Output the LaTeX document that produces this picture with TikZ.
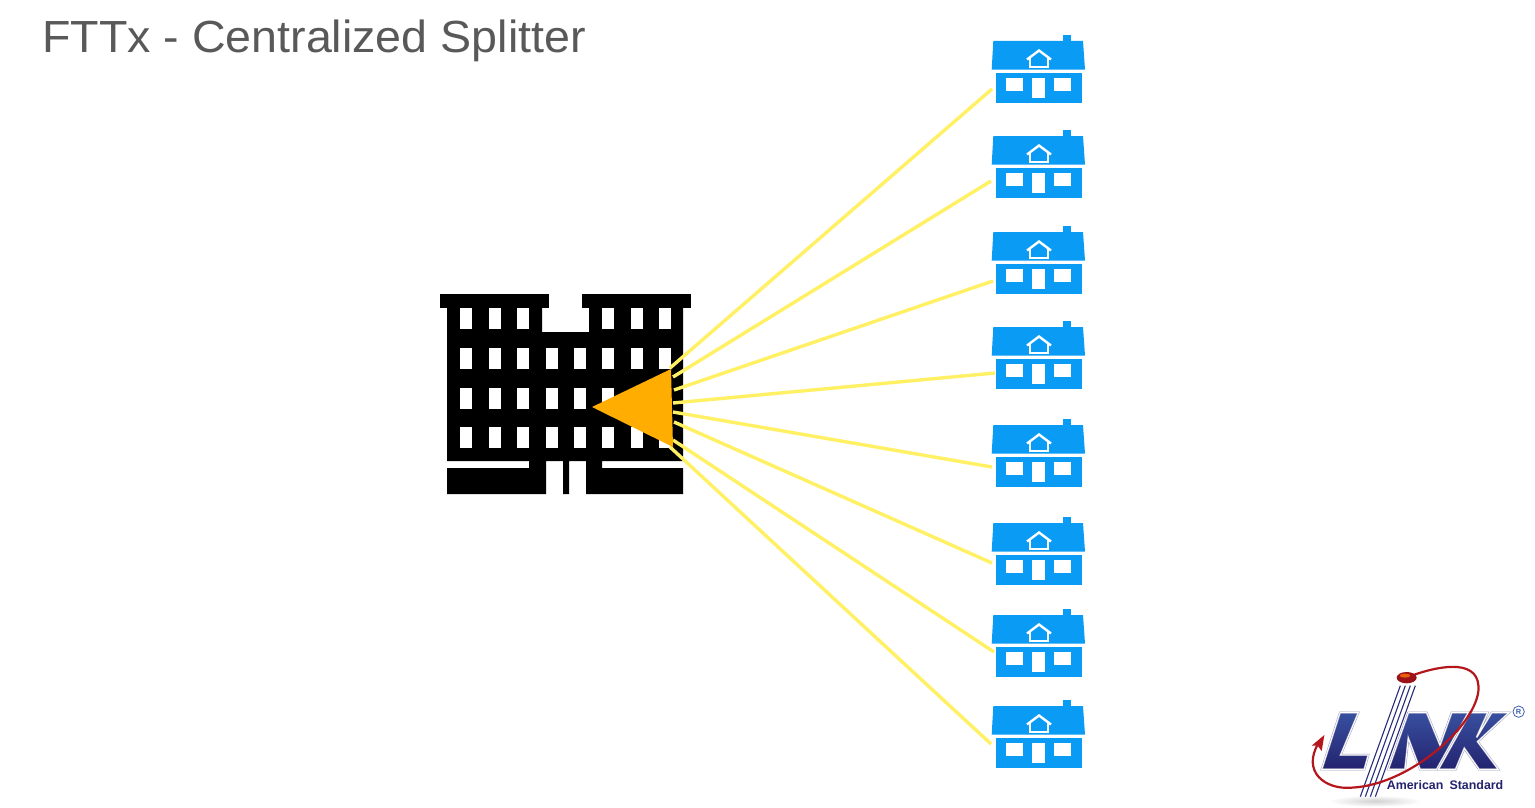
\documentclass[tikz,border=0pt]{standalone}
\usepackage{fontspec}
\setmainfont{Liberation Sans}
\usetikzlibrary{arrows.meta}
\definecolor{houseblue}{HTML}{0A9BF5}
\definecolor{fibre}{HTML}{FFF064}
\definecolor{splitter}{HTML}{FFAD00}
\definecolor{titlegrey}{HTML}{595959}
\definecolor{linkdark}{HTML}{23236F}
\definecolor{linkmid}{HTML}{3F5FB0}
\definecolor{linkred}{HTML}{B5161C}
\tikzset{
  fibreline/.style={draw=fibre,line width=3.4pt},
  win/.style={fill=white,draw=none},
  letter/.style={draw=linkdark!45,double=white,double distance=1pt,line width=0.5pt,top color=linkmid!75!linkdark,bottom color=linkdark},
  house/.pic={
    \fill[houseblue] (-45.7,0) -- (44,0) -- (46,28.6) -- (-47.3,28.6) -- cycle;
    \fill[houseblue] (24,-6) rectangle (32,0);
    \fill[houseblue] (-43,31.6) rectangle (42.7,62);
    \fill[win] (-33,37) rectangle (-15.7,50);
    \fill[win] (-6.7,37) rectangle (5.7,57);
    \fill[win] (15,37) rectangle (32,50);
    \draw[white,line width=2.4pt] (-12,18.5) -- (0,9.5) -- (12,18.5);
    \draw[white,line width=1.8pt] (-8.7,16.5) -- (-8.7,25.8) -- (9,25.8) -- (9,16.5);
  }
}
\begin{document}
\begin{tikzpicture}[x=1pt,y=-1pt]
\useasboundingbox (0,0) rectangle (1535,808);
\fill[white] (0,0) rectangle (1535,808);
\node[anchor=base west,inner sep=0pt,text=titlegrey,xscale=1.035,font=\fontsize{45}{50}\selectfont] (title) at (42,52.5) {FTTx - Centralized Splitter};

% building
\fill[black] (440,294) rectangle (549,308);
\fill[black] (582,294) rectangle (691,308);
\fill[black] (447,308) -- (542,308) -- (542,332) -- (589,332) -- (589,308) -- (683,308) -- (683,461) -- (602,461) -- (602,468) -- (683,468) -- (683,494) -- (586,494) -- (586,461) -- (569,461) -- (569,494) -- (563,494) -- (563,461) -- (546,461) -- (546,494) -- (447,494) -- (447,468) -- (529,468) -- (529,461) -- (447,461) -- cycle;
\foreach \x in {460,489,517.3,602,631,659.3} \fill[win] (\x,308.3) rectangle ++(12,21);
\foreach \y in {348.3,387.7,427.3} \foreach \x in {460,489,517.3,546,574,602,631,659.3} \fill[win] (\x,\y) rectangle ++(12,21);

% houses
\foreach \n/\y in {1/41,2/136,3/232,4/327,5/425,6/523,7/615,8/706} \pic at (1039,\y) {house};

% connector ends
\coordinate (tip) at (592,407);
\coordinate (top) at (671,369);
\coordinate (bot) at (673,447);
\coordinate (s1) at (670,368);\coordinate (s2) at (673,377);\coordinate (s3) at (674,390);\coordinate (s4) at (673,403);
\coordinate (s5) at (673,412);\coordinate (s6) at (674,422);\coordinate (s7) at (673,440);\coordinate (s8) at (670,447);
\coordinate (h1) at (992,89);\coordinate (h2) at (991,181);\coordinate (h3) at (993,281);\coordinate (h4) at (995,373);
\coordinate (h5) at (992,467);\coordinate (h6) at (992,563);\coordinate (h7) at (994,652);\coordinate (h8) at (991,744);
\foreach \i in {1,...,8} \draw[fibreline] (s\i) -- (h\i);
\fill[splitter] (tip) -- (top) -- (bot) -- cycle;

% logo
\begin{scope}[shift={(1295,655)},x=0.3333pt,y=-0.3333pt]
\shade[inner color=black!18,outer color=white,draw=none] (240,438) ellipse (140 and 17);
\begin{scope}[shift={(30,135)}]
\path[letter] (105,38) -- (160,38) -- (107,165) -- (190,165) -- (178,208) -- (50,208) -- cycle;
\path[letter] (310,38) -- (365,38) -- (405,135) -- (440,38) -- (490,38) -- (395,208) -- (345,208) -- (310,115) -- (300,208) -- (250,208) -- cycle;
\path[letter] (495,38) -- (548,38) -- (515,112) -- (560,38) -- (612,38) -- (518,125) -- (580,208) -- (522,208) -- (478,145) -- (452,208) -- (400,208) -- cycle;
\end{scope}
\foreach \d in {0,15,30,45} {
  \draw[white,line width=1.6pt] (316+\d,92) -- (196+\d,425);
  \draw[linkdark!85!linkmid,line width=1.1pt] (316+\d,92) -- (196+\d,425);
}
\draw[linkred,line width=2.2pt] (355,60) .. controls (440,30) and (560,10) .. (550,110) .. controls (535,220) and (340,390) .. (170,398) .. controls (90,405) and (20,350) .. (70,265);
\fill[linkred] (88,240) -- (50,272) -- (68,272) -- (80,288) -- cycle;
\fill[linkred!85!black] (335,68) ellipse (30 and 17);
\fill[orange!70!linkred] (330,62) ellipse (16 and 6);
\draw[linkmid,line width=0.8pt] (671,170) circle (17);
\node[text=linkmid,inner sep=0pt,font=\fontsize{7.5}{8}\selectfont\bfseries] (reg) at (671,170) {R};
\node[anchor=base west,text=linkdark,inner sep=0pt,font=\fontsize{12.4}{13}\selectfont\bfseries] (brand) at (275,403) {American\hspace{0.5em}Standard};
\end{scope}
\end{tikzpicture}
\end{document}
